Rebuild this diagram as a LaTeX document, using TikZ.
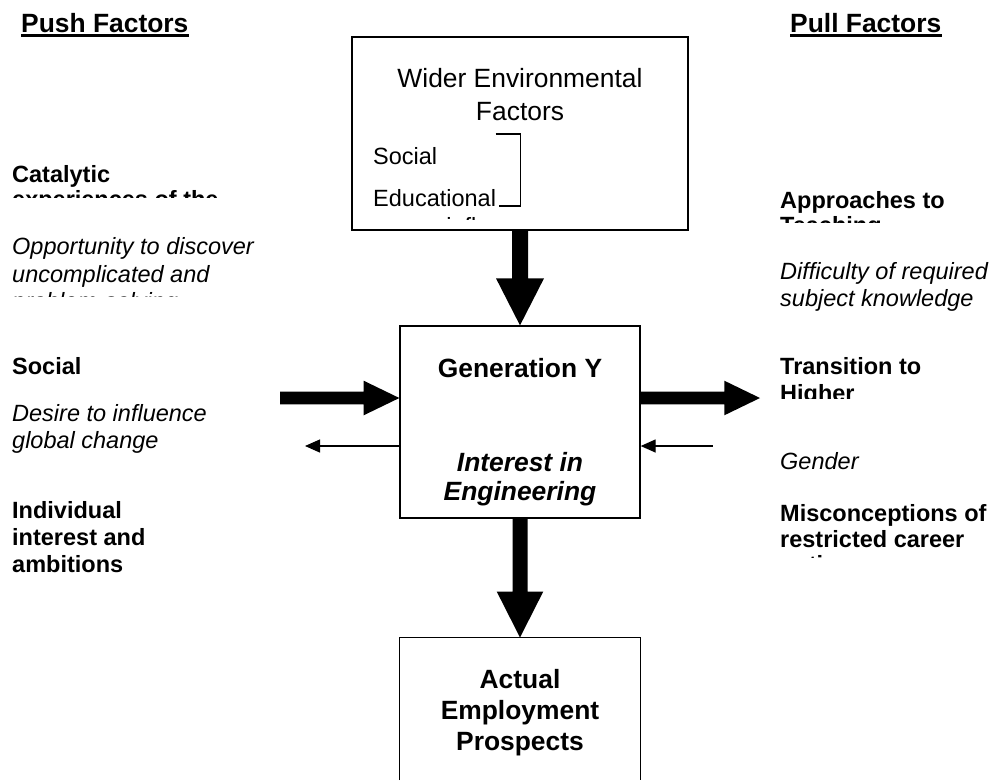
\documentclass[tikz,border=0pt]{standalone}
\usepackage{fontspec}
\setmainfont{Liberation Sans}
\usetikzlibrary{calc,arrows.meta}

\begin{document}
\begin{tikzpicture}[x=1pt,y=-1pt,
  frame/.style={draw,line width=1.3pt,inner sep=0pt},
  bigr/.style={font=\fontsize{26.4pt}{30pt}\selectfont},
  bigb/.style={font=\fontsize{26.4pt}{30pt}\selectfont\bfseries},
  bigbi/.style={font=\fontsize{26.4pt}{30pt}\selectfont\bfseries\itshape},
  bodyr/.style={font=\fontsize{23.5pt}{27pt}\selectfont},
  bodyb/.style={font=\fontsize{23.5pt}{27pt}\selectfont\bfseries},
  bodyi/.style={font=\fontsize{23.5pt}{27pt}\selectfont\itshape},
  ln/.style={inner sep=0pt,anchor=base west},
  cln/.style={inner sep=0pt,anchor=base},
  bigarrow/.style={fill=black,draw=none},
  thinarrow/.style={line width=1.3pt,-{Triangle[length=15pt,width=13pt]}},
  underl/.style={line width=2.6pt}
]
\useasboundingbox (0,0) rectangle (994,780);

% ---- column headings
\node[ln,bigb] (push) at (21,32.3) {Push Factors};
\node[ln,bigb] (pull) at (790,32.3) {Pull Factors};
\draw[underl] ($(push.base west)+(0,3)$) -- ($(push.base east)+(0,3)$);
\draw[underl] ($(pull.base west)+(0,3)$) -- ($(pull.base east)+(0,3)$);

% ---- boxes
\node[frame,minimum width=336pt,minimum height=193pt] (env) at (520,133.5) {};
\node[frame,minimum width=240pt,minimum height=192pt] (gen) at (520,422) {};
\node[inner sep=0pt,minimum width=240pt,minimum height=142.3pt] (emp) at (520,708.85) {};
\draw[line width=1.3pt] (emp.south west) -- (emp.north west) -- (emp.north east) -- (emp.south east);

% ---- wider environmental factors
\node[cln,bigr] (envt1) at (520,87.5) {Wider Environmental};
\node[cln,bigr] (envt2) at (520,120) {Factors};
\begin{scope}
  \clip (353,140) rectangle (687,219.5);
  \node[ln,bodyr] (envs) at (373,164.3) {Social};
  \node[ln,bodyr] (enve) at (373,206) {Educational};
  \node[ln,bodyr] (envc) at (373,234) {career influences};
\end{scope}
\coordinate (brtop) at (495.7,134);
\coordinate (brbot) at (499.3,206);
\draw[line width=1.1pt] (brtop) -- (520.7,134) |- (brbot);

% ---- generation Y
\node[cln,bigb] (gent1) at (520,377) {Generation Y};
\node[cln,bigbi] (gent2) at (520,471) {Interest in};
\node[cln,bigbi] (gent3) at (520,500) {Engineering};

% ---- employment
\node[cln,bigb] (empt1) at (520,688.3) {Actual};
\node[cln,bigb] (empt2) at (520,719) {Employment};
\node[cln,bigb] (empt3) at (520,750) {Prospects};

% ---- thick arrows
\fill[bigarrow] ($(env.south)+(-8,0)$) -- ($(gen.north)+(-8,-47)$) -- ($(gen.north)+(-24,-47)$)
  -- (gen.north) -- ($(gen.north)+(24,-47)$) -- ($(gen.north)+(8,-47)$) -- ($(env.south)+(8,0)$) -- cycle;
\fill[bigarrow] ($(gen.south)+(-7.5,0)$) -- ($(emp.north)+(-7.5,-46)$) -- ($(emp.north)+(-23.3,-46)$)
  -- (emp.north) -- ($(emp.north)+(23.3,-46)$) -- ($(emp.north)+(7.5,-46)$) -- ($(gen.south)+(7.5,0)$) -- cycle;
\coordinate (pushin) at (280,398);
\coordinate (pullout) at (760,398);
\coordinate (pushtip) at (pushin -| gen.west);
\coordinate (pullbase) at (pullout -| gen.east);
\fill[bigarrow] ($(pushin)+(0,-6.3)$) -- ($(pushtip)+(-35.7,-6.3)$) -- ($(pushtip)+(-35.7,-17.3)$)
  -- (pushtip) -- ($(pushtip)+(-35.7,17.3)$) -- ($(pushtip)+(-35.7,6.3)$) -- ($(pushin)+(0,6.3)$) -- cycle;
\fill[bigarrow] ($(pullbase)+(0,-6.3)$) -- ($(pullout)+(-35.7,-6.3)$) -- ($(pullout)+(-35.7,-17.3)$)
  -- (pullout) -- ($(pullout)+(-35.7,17.3)$) -- ($(pullout)+(-35.7,6.3)$) -- ($(pullbase)+(0,6.3)$) -- cycle;

% ---- thin arrows
\coordinate (pushback) at (305,446);
\coordinate (pullback) at (712.7,446);
\draw[thinarrow] (pushback -| gen.west) -- (pushback);
\draw[thinarrow] (pullback) -- (pullback -| gen.east);

% ---- push factors
\begin{scope}
  \clip (0,150) rectangle (330,197.5);
  \node[ln,bodyb] (pf1) at (12,182) {Catalytic};
  \node[ln,bodyb] (pf2) at (12,207) {experiences of the};
\end{scope}
\begin{scope}
  \clip (0,225) rectangle (330,296);
  \node[ln,bodyi] (pf3) at (12,254) {Opportunity to discover};
  \node[ln,bodyi] (pf4) at (12,282) {uncomplicated and};
  \node[ln,bodyi] (pf5) at (12,309.5) {problem-solving};
\end{scope}
\node[ln,bodyb] (pf6) at (12,374) {Social};
\node[ln,bodyi] (pf7) at (12,421.7) {Desire to influence};
\node[ln,bodyi] (pf8) at (12,448) {global change};
\node[ln,bodyb] (pf9) at (12,518) {Individual};
\node[ln,bodyb] (pf10) at (12,545) {interest and};
\node[ln,bodyb] (pf11) at (12,572) {ambitions};

% ---- pull factors
\begin{scope}
  \clip (770,170) rectangle (994,222.5);
  \node[ln,bodyb] (lf1) at (780,208) {Approaches to};
  \node[ln,bodyb] (lf2) at (780,233) {Teaching};
\end{scope}
\node[ln,bodyi] (lf3) at (780,279) {Difficulty of required};
\node[ln,bodyi] (lf4) at (780,306) {subject knowledge};
\begin{scope}
  \clip (770,340) rectangle (994,398.3);
  \node[ln,bodyb] (lf5) at (780,374) {Transition to};
  \node[ln,bodyb] (lf6) at (780,401.5) {Higher};
\end{scope}
\node[ln,bodyi] (lf7) at (780,469) {Gender};
\begin{scope}
  \clip (770,490) rectangle (994,557.5);
  \node[ln,bodyb] (lf8) at (780,521.7) {Misconceptions of};
  \node[ln,bodyb] (lf9) at (780,547) {restricted career};
  \node[ln,bodyb] (lf10) at (780,572) {options};
\end{scope}
\end{tikzpicture}
\end{document}
